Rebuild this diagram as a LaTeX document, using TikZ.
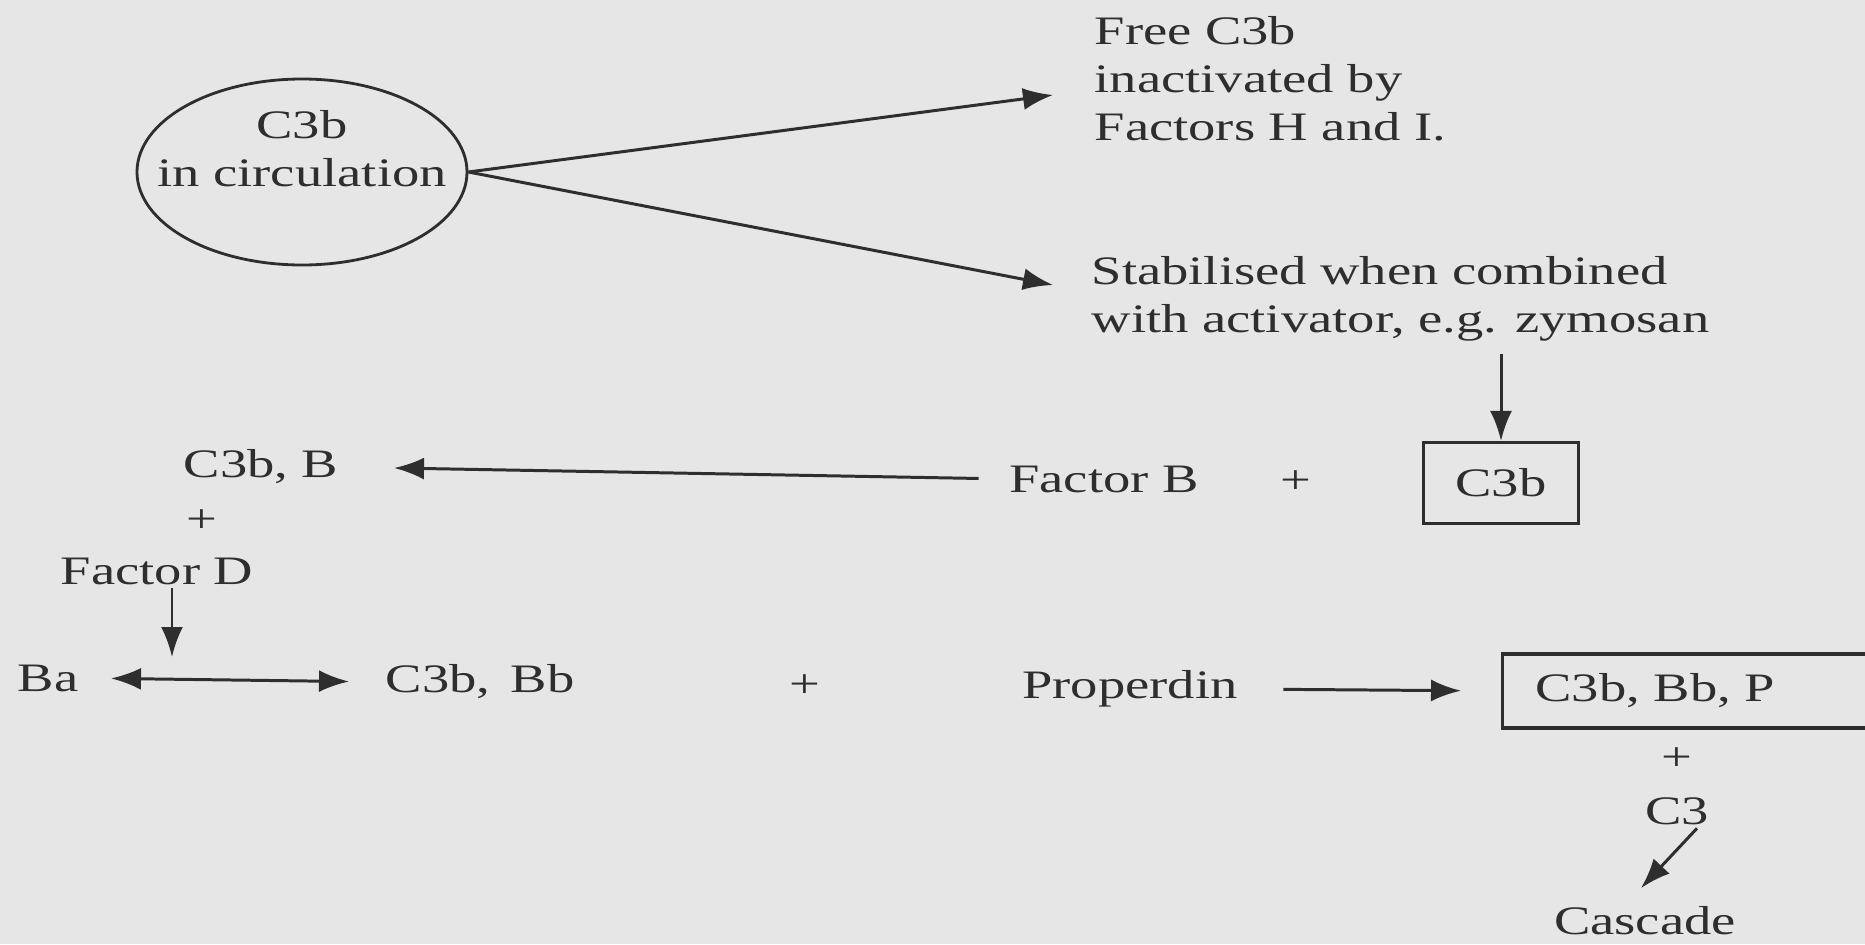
\documentclass[tikz,border=0pt]{standalone}
\usepackage{fontspec}
\setmainfont{Liberation Serif}[FakeStretch=1.35]
\usetikzlibrary{arrows.meta, shapes.geometric}
\definecolor{pPaper}{HTML}{E6E6E6}
\definecolor{pInk}{HTML}{2E2E2E}

\begin{document}
\begin{tikzpicture}[
  every node/.style={font=\fontsize{11.5}{13.6}\selectfont, text=pInk, inner sep=0pt},
  blob/.style={
    ellipse,
    draw=pInk,
    line width=0.8pt,
    minimum width=33mm,
    minimum height=18.6mm
  },
  boxed/.style={draw=pInk, line width=0.9pt, minimum height=8.1mm},
  para/.style={align=left, anchor=west},
  arr/.style={draw=pInk, line width=0.85pt, -{Latex[length=3mm,width=2.2mm]}},
  darr/.style={draw=pInk, line width=0.85pt,
    {Latex[length=3mm,width=2.2mm]}-{Latex[length=3mm,width=2.2mm]}}
]
\fill[pPaper] (0,0) rectangle (18.65,-9.44);
\useasboundingbox (0,0) rectangle (18.65,-9.44);
\clip (0,0) rectangle (18.65,-9.44);

% top: C3b in circulation
\node[blob] (circ) at (3.02,-1.72) {};
\node[align=center] (circtxt) at (3.02,-1.49) {C3b\\in circulation};

\node[para] (free) at (10.94,-0.79) {Free C3b\\inactivated by\\Factors H and I.};
\node[para] (stab) at (10.91,-2.99) {Stabilised when combined\\with activator, e.g. zymosan};

\draw[arr] (circ.east) -- ([xshift=-4.1mm,yshift=-1.6mm]free.west);
\draw[arr] (circ.east) -- ([xshift=-3.8mm,yshift=1.4mm]stab.west);

% middle row
\node[boxed, minimum width=15.5mm] (c3b) at (15.01,-4.83) {C3b};
\node (facB) at (11.04,-4.79) {Factor B};
\node (plus1) at (12.96,-4.82) {+};
\node (c3bB) at (2.61,-4.67) {C3b, B};
\node (plus2) at (2.02,-5.21) {+};
\node (facD) at (1.57,-5.71) {Factor D};

\draw[arr, shorten <=1.2mm] (stab.south -| c3b.north) -- (c3b.north);
\draw[arr, shorten <=3mm, shorten >=5.5mm] (facB.west) -- (c3bB.east);

% bottom row
\node (ba) at (0.48,-6.78) {Ba};
\node (c3bBb) at (4.80,-6.82) {C3b,\, Bb};
\node (plus3) at (8.05,-6.86) {+};
\node (prop) at (11.30,-6.89) {Properdin};
\node[boxed, anchor=west, minimum height=7.4mm, text width=38mm,
  inner xsep=3.3mm, align=left] (cbbp) at (15.01,-6.91) {C3b, Bb, P};
\node (plus4) at (16.77,-7.59) {+};
\node (c3) at (16.77,-8.11) {C3};
\node (casc) at (16.45,-9.21) {Cascade};
\coordinate (split) at (1.72,-6.57);

\draw[darr, shorten <=3.2mm, shorten >=3.6mm] (ba.east) -- (c3bBb.west);
\draw[arr, shorten <=0.3mm] (facD.south -| split) -- (split);
\draw[arr, shorten <=4.5mm, shorten >=4mm] (prop.east) -- (cbbp.west);
\draw[arr] ([xshift=2mm,yshift=-0.3mm]c3.south) -- ([xshift=-0.4mm,yshift=1.8mm]casc.north);

\end{tikzpicture}
\end{document}
